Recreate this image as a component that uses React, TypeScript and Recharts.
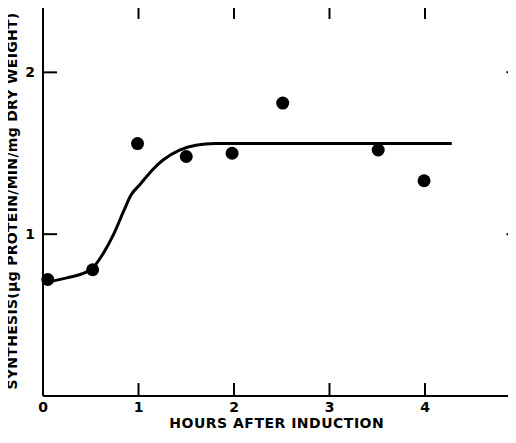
import React from 'react';
import { ComposedChart, Line, Scatter, XAxis, YAxis } from 'recharts';

// measured points (hours, synthesis)
const pointHours = [0.05, 0.52, 0.99, 1.5, 1.98, 2.51, 3.51, 3.99];
const pointValues = [0.72, 0.78, 1.56, 1.48, 1.5, 1.81, 1.52, 1.33];

// fitted curve
const curveHours = [0, 0.25, 0.5, 0.63, 0.74, 0.85, 0.92, 1.02, 1.15, 1.26, 1.43, 1.6, 1.8, 4.28];
const curveValues = [0.7, 0.73, 0.78, 0.88, 1.0, 1.15, 1.24, 1.31, 1.4, 1.46, 1.52, 1.55, 1.56, 1.56];

const xTicks = [0, 1, 2, 3, 4];
const yTicks = [1, 2];

const xTitle = 'HOURS AFTER INDUCTION';
const yTitle = 'SYNTHESIS(\u00b5g PROTEIN/MIN/mg DRY WEIGHT)';

const X_MAX = 5;
const Y_MAX = 2.41;
// inward tick lengths, in data units
const X_TICK = 0.08;
const Y_TICK = 0.147;

const points = pointHours.map((h, i) => ({ x: h, y: pointValues[i] }));
const curve = curveHours.map((h, i) => ({ x: h, y: curveValues[i] }));

// box edges and the inward tick marks, as short line series
const frameLines = [
    [{ x: 0, y: Y_MAX }, { x: X_MAX, y: Y_MAX }],
    [{ x: X_MAX, y: 0 }, { x: X_MAX, y: Y_MAX }],
    ...xTicks.map((t) => [{ x: t, y: 0 }, { x: t, y: X_TICK }]),
    ...xTicks.filter((t) => t > 0).map((t) => [{ x: t, y: Y_MAX }, { x: t, y: Y_MAX - X_TICK }]),
    ...yTicks.map((t) => [{ x: 0, y: t }, { x: Y_TICK, y: t }]),
    ...yTicks.map((t) => [{ x: X_MAX, y: t }, { x: X_MAX - Y_TICK, y: t }]),
];

const font = '"DejaVu Sans", sans-serif';
const labelFont = { fill: '#000', fontSize: 14, fontWeight: 700, fontFamily: font };

const Dot = (props: any) => <circle cx={props.cx} cy={props.cy} r={6.5} fill="#000" />;

export default function App() {
    return (
        <div style={{ margin: -8, width: 516, height: 443, overflow: 'hidden', background: '#fff' }}>
            <ComposedChart width={530} height={443} margin={{ top: 6, right: 9.5, left: 0, bottom: 0 }}>
                <XAxis
                    dataKey="x"
                    type="number"
                    domain={[0, X_MAX]}
                    ticks={xTicks}
                    height={47}
                    stroke="#000"
                    strokeWidth={2}
                    tickLine={false}
                    tickMargin={0}
                    tick={labelFont}
                    label={{
                        value: xTitle,
                        position: 'insideBottom',
                        offset: 15,
                        dx: -5,
                        style: { ...labelFont, letterSpacing: 0.5 },
                    }}
                />
                <YAxis
                    type="number"
                    domain={[0, Y_MAX]}
                    ticks={yTicks}
                    width={43}
                    stroke="#000"
                    strokeWidth={2}
                    tickLine={false}
                    tickMargin={2}
                    tick={labelFont}
                    label={{
                        value: yTitle,
                        angle: -90,
                        position: 'insideLeft',
                        offset: 12,
                        style: { ...labelFont, textAnchor: 'middle', letterSpacing: 0.3 },
                    }}
                />
                {frameLines.map((seg, i) => (
                    <Line
                        key={'f' + i}
                        data={seg}
                        dataKey="y"
                        type="linear"
                        stroke="#000"
                        strokeWidth={2}
                        dot={false}
                        activeDot={false}
                        isAnimationActive={false}
                    />
                ))}
                <Line
                    data={curve}
                    dataKey="y"
                    type="monotone"
                    stroke="#000"
                    strokeWidth={3}
                    dot={false}
                    activeDot={false}
                    isAnimationActive={false}
                />
                <Scatter data={points} dataKey="y" fill="#000" shape={Dot} isAnimationActive={false} />
            </ComposedChart>
        </div>
    );
}
